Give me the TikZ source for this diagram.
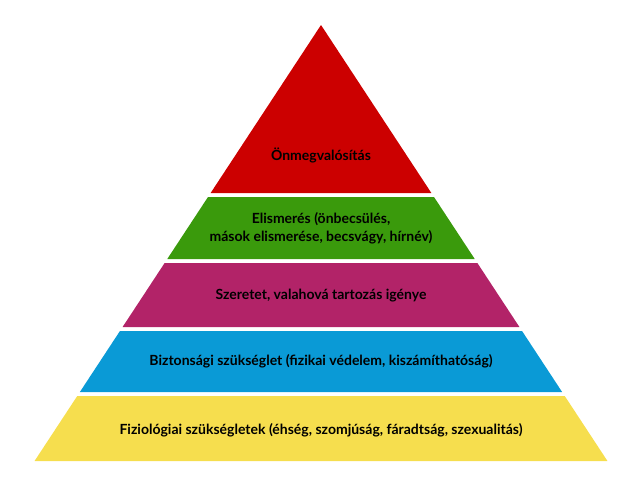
\documentclass[tikz,border=0pt]{standalone}
\usepackage{fontspec}
\setmainfont{Lato}
\definecolor{cred}{HTML}{CC0000}
\definecolor{cgreen}{HTML}{3A9A0C}
\definecolor{cpink}{HTML}{B22368}
\definecolor{cblue}{HTML}{0A9AD6}
\definecolor{cyellow}{HTML}{F6DE4E}
\begin{document}
\begin{tikzpicture}[x=1pt,y=-1pt,
  lbl/.style={font=\bfseries\fontsize{14}{18}\selectfont,align=center,text=black}]
\useasboundingbox (0,0) rectangle (640,480);
\def\L#1{\fpeval{321-0.657*(#1-25)}}
\def\R#1{\fpeval{321+0.657*(#1-25)}}
\newcommand\band[3]{\fill[#3] (\L{#1},#1) -- (\R{#1},#1) -- (\R{#2},#2) -- (\L{#2},#2) -- cycle;}
\fill[cred] (321,25) -- (\R{193},193) -- (\L{193},193) -- cycle;
\band{197}{259}{cgreen}
\band{263}{327}{cpink}
\band{331}{392}{cblue}
\band{396}{461}{cyellow}
\node[lbl] (t1) at (321,155) {Önmegvalósítás};
\node[lbl] (t2) at (321,228) {Elismerés (önbecsülés,\\ mások elismerése, becsvágy, hírnév)};
\node[lbl] (t3) at (321,296) {Szeretet, valahová tartozás igénye};
\node[lbl] (t4) at (321,361) {Biztonsági szükséglet (fizikai védelem, kiszámíthatóság)};
\node[lbl] (t5) at (321,430) {Fiziológiai szükségletek (éhség, szomjúság, fáradtság, szexualitás)};
\end{tikzpicture}
\end{document}
